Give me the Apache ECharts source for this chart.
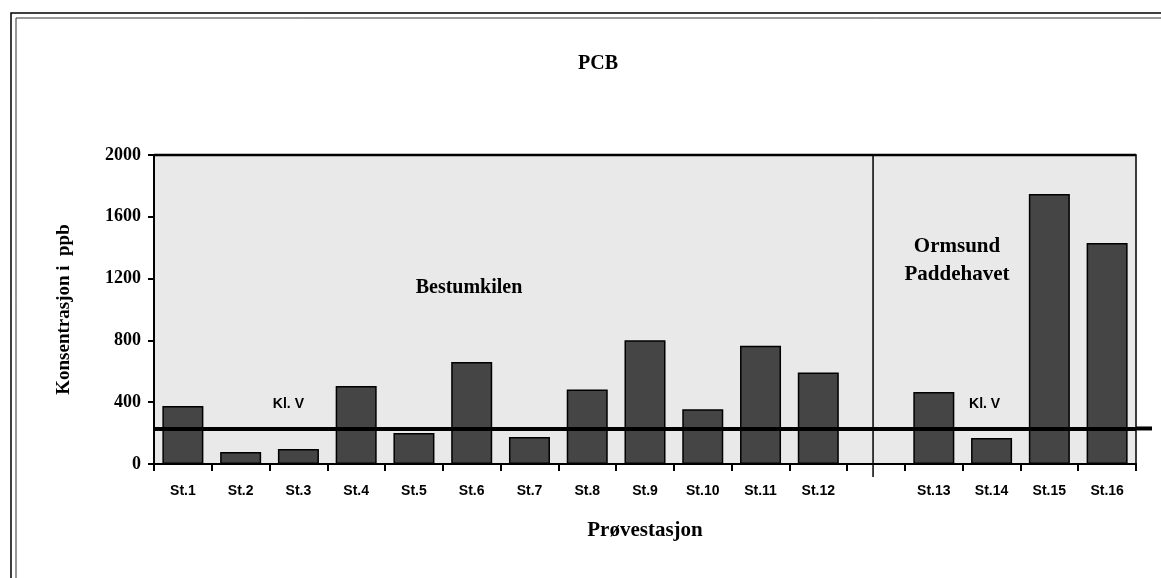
<!DOCTYPE html>
<html>
<head>
<meta charset="utf-8">
<script src="https://cdn.jsdelivr.net/npm/echarts@6/dist/echarts.min.js"></script>
<style>
html,body{margin:0;padding:0;background:#fff;}
#c{width:1161px;height:578px;}
</style>
</head>
<body>
<div id="c"></div>
<script>
var categories = ['St.1','St.2','St.3','St.4','St.5','St.6','St.7','St.8','St.9','St.10','St.11','St.12',' ','St.13','St.14','St.15','St.16'];
var pcbValues = [375, 78, 97, 505, 200, 660, 174, 483, 801, 354, 766, 593, null, 466, 168, 1748, 1430];
var yTicks = [0, 400, 800, 1200, 1600, 2000];
var klassV = 230;
var dividerCategory = ' ';

var serif = '"Liberation Serif", "Times New Roman", serif';
var sans = '"Liberation Sans", Arial, sans-serif';

var chart = echarts.init(document.getElementById('c'));
chart.setOption({
  animation: false,
  backgroundColor: '#ffffff',
  title: {
    text: 'PCB', left: 593, top: 49, textAlign: 'center',
    textStyle: {fontFamily: serif, fontWeight: 'bold', fontSize: 20, color: '#000'}
  },
  grid: {
    left: 154, right: 25, top: 155, bottom: 114,
    show: true, backgroundColor: '#e9e9e9', borderColor: '#000', borderWidth: 1.5
  },
  xAxis: {
    type: 'category', data: categories,
    name: 'Prøvestasjon', nameLocation: 'middle', nameGap: 56,
    nameTextStyle: {fontFamily: serif, fontWeight: 'bold', fontSize: 21, color: '#000'},
    axisLine: {lineStyle: {color: '#000', width: 2}},
    axisTick: {show: true, length: 7, lineStyle: {color: '#000', width: 2}},
    axisLabel: {margin: 20, fontFamily: sans, fontWeight: 'bold', fontSize: 14, color: '#000', interval: 0}
  },
  yAxis: {
    type: 'value', min: yTicks[0], max: yTicks[yTicks.length-1], interval: 400,
    name: 'Konsentrasjon i  ppb', nameLocation: 'middle', nameGap: 80,
    nameTextStyle: {fontFamily: serif, fontWeight: 'bold', fontSize: 19, color: '#000'},
    axisLine: {show: true, lineStyle: {color: '#000', width: 2}},
    axisTick: {show: true, length: 6, lineStyle: {color: '#000', width: 2}},
    axisLabel: {margin: 13, fontFamily: serif, fontWeight: 'bold', fontSize: 18, color: '#000',
      formatter: function(v){ return String(v); }},
    splitLine: {show: false}
  },
  series: [{
    type: 'bar', data: pcbValues, barCategoryGap: '29%',
    itemStyle: {color: '#454545', borderColor: '#000', borderWidth: 1.5},
    markLine: {
      silent: true, symbol: 'none', label: {show: false},
      lineStyle: {color: '#000', width: 4, type: 'solid'},
      data: [{yAxis: klassV}]
    }
  }]
});

// decorations positioned through the chart's own scales
var yKl = chart.convertToPixel({yAxisIndex: 0}, klassV);
var yTop = chart.convertToPixel({yAxisIndex: 0}, 2000);
var yZero = chart.convertToPixel({yAxisIndex: 0}, 0);
var xDiv = chart.convertToPixel({xAxisIndex: 0}, dividerCategory) - 3;
var yKlLabel = chart.convertToPixel({yAxisIndex: 0}, 400) + 2;
var xLeft = chart.convertToPixel({xAxisIndex: 0}, 'St.1') - 29;
var xRight = chart.convertToPixel({xAxisIndex: 0}, 'St.16') + 29;
chart.setOption({
  graphic: [
    {type: 'rect', shape: {x: 11, y: 13, width: 1200, height: 700}, style: {fill: 'none', stroke: '#000', lineWidth: 1.5}, silent: true},
    {type: 'rect', shape: {x: 16, y: 18, width: 1200, height: 700}, style: {fill: 'none', stroke: '#333', lineWidth: 1}, silent: true},
    {type: 'line', shape: {x1: xLeft, y1: yTop, x2: xRight, y2: yTop}, style: {stroke: '#000', lineWidth: 2.5}, silent: true, z: 10},
    {type: 'line', shape: {x1: 1136, y1: yKl, x2: 1152, y2: yKl}, style: {stroke: '#000', lineWidth: 4}, silent: true},
    {type: 'line', shape: {x1: xDiv, y1: yTop, x2: xDiv, y2: yZero + 13}, style: {stroke: '#000', lineWidth: 1.5}, silent: true, z: 10},
    {type: 'text', x: chart.convertToPixel({xAxisIndex: 0}, 'St.3') - 10, y: yKlLabel,
      style: {text: 'Kl. V', fontFamily: sans, fontWeight: 'bold', fontSize: 14, fill: '#000', align: 'center', verticalAlign: 'middle'}},
    {type: 'text', x: chart.convertToPixel({xAxisIndex: 0}, 'St.14') - 7, y: yKlLabel,
      style: {text: 'Kl. V', fontFamily: sans, fontWeight: 'bold', fontSize: 14, fill: '#000', align: 'center', verticalAlign: 'middle'}},
    {type: 'text', x: 469, y: 288,
      style: {text: 'Bestumkilen', fontFamily: serif, fontWeight: 'bold', fontSize: 20, fill: '#000', align: 'center', verticalAlign: 'middle'}},
    {type: 'text', x: 957, y: 261,
      style: {text: 'Ormsund\nPaddehavet', fontFamily: serif, fontWeight: 'bold', fontSize: 21, lineHeight: 28, fill: '#000', align: 'center', verticalAlign: 'middle'}}
  ]
});
</script>
</body>
</html>
